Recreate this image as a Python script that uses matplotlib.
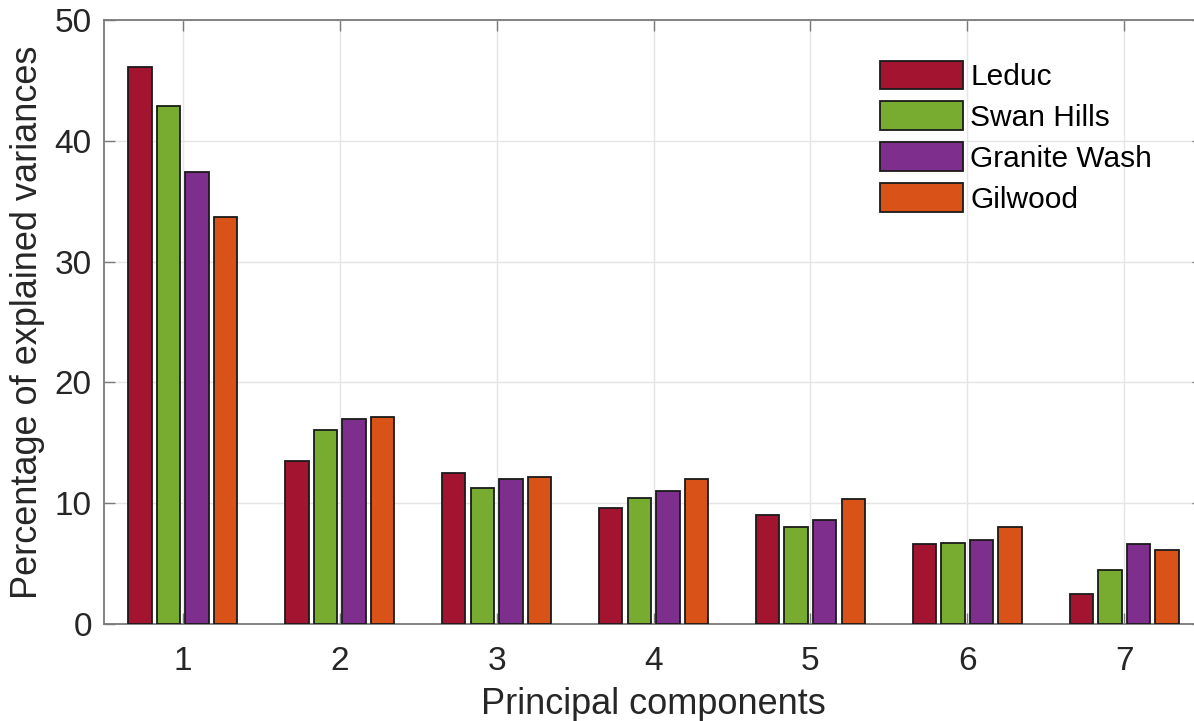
import numpy as np
import matplotlib
matplotlib.use('Agg')
import matplotlib.pyplot as plt

plt.rcParams['font.family'] = ['Liberation Sans', 'DejaVu Sans']

components = [1, 2, 3, 4, 5, 6, 7]
fields = ['Leduc', 'Swan Hills', 'Granite Wash', 'Gilwood']
leduc = [46.1, 13.5, 12.5, 9.6, 9.0, 6.6, 2.5]
swan_hills = [42.9, 16.1, 11.3, 10.4, 8.0, 6.7, 4.5]
granite_wash = [37.4, 17.0, 12.0, 11.0, 8.6, 6.95, 6.6]
gilwood = [33.7, 17.1, 12.2, 12.0, 10.35, 8.05, 6.15]

series = [leduc, swan_hills, granite_wash, gilwood]
colors = ['#A2142F', '#77AC30', '#7E2F8E', '#D95319']

fig = plt.figure(figsize=(11.94, 7.21), dpi=100)
# axes runs slightly past the right edge of the figure
ax = fig.add_axes([0.0874, 0.1345, 0.9199, 0.8377])

x = np.array(components, dtype=float)
step = 0.182
width = 0.149
for i, (vals, c, name) in enumerate(zip(series, colors, fields)):
    ax.bar(x + (i - 1.5) * step, vals, width, color=c, edgecolor='#1a1a1a',
           linewidth=1.3, label=name, zorder=3)

ax.set_xlim(0.5, 7.5)
ax.set_ylim(0, 50)
ax.set_xticks(components)
ax.set_yticks(range(0, 51, 10))

ax.grid(True, color='#e5e5e5', linewidth=1.0, zorder=0)
ax.set_axisbelow(True)

for s in ax.spines.values():
    s.set_color('#7a7a7a')
    s.set_linewidth(1.3)

ax.tick_params(direction='in', length=8, width=1.0, color='#7a7a7a',
               labelsize=24, labelcolor='#262626', top=True, right=True)
ax.tick_params(axis='x', pad=16)
ax.tick_params(axis='y', pad=9)

ax.set_xlabel('Principal components', fontsize=26, color='#262626', labelpad=7)
ax.set_ylabel('Percentage of explained variances', fontsize=26, color='#262626', labelpad=7)

leg = ax.legend(loc='upper left', bbox_to_anchor=(0.706, 0.933), frameon=False,
                fontsize=21.5, handlelength=2.78, handleheight=1.1, labelspacing=0.35,
                handletextpad=0.25, borderpad=0, borderaxespad=0)

fig.savefig('out.png', dpi=100)
